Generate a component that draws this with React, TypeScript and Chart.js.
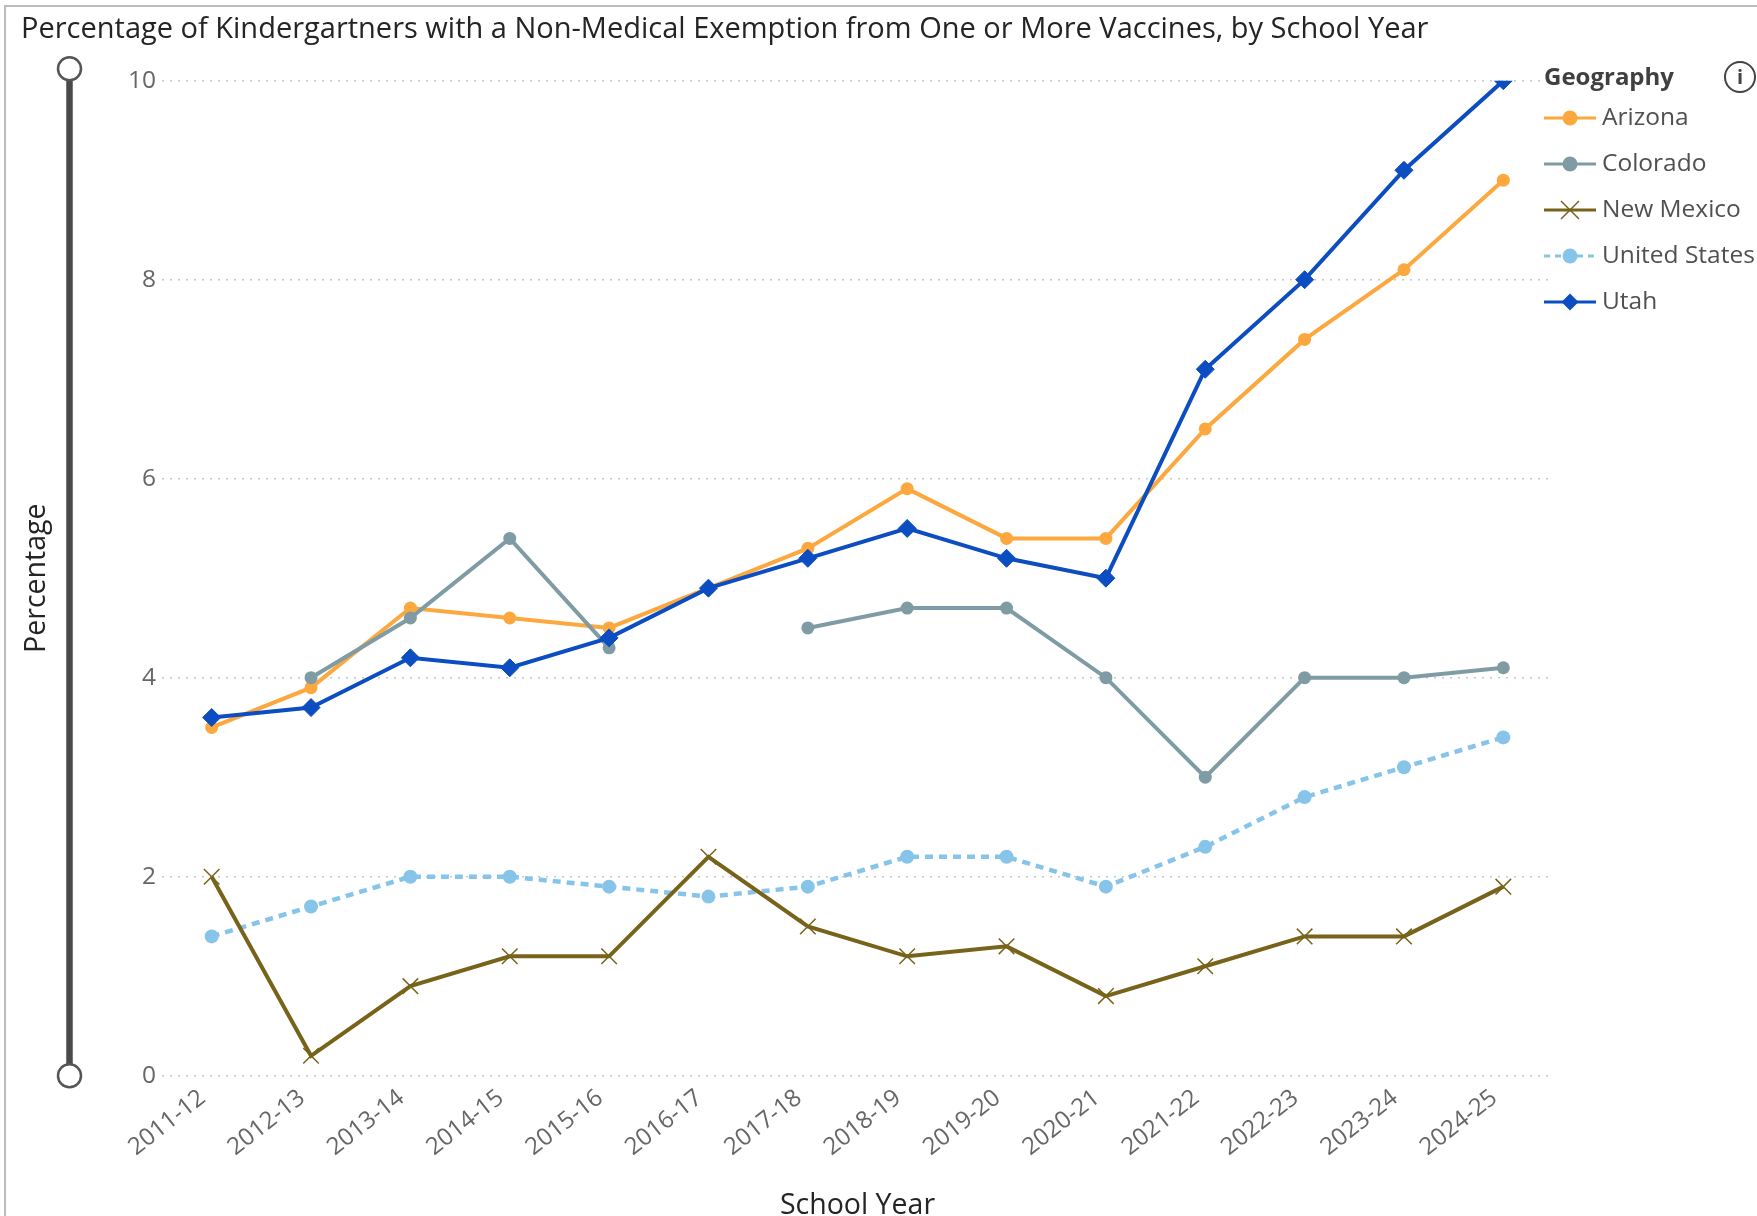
import React, { useEffect, useRef } from "react";
import { Chart, registerables } from "chart.js";

Chart.register(...registerables);

const schoolYears = [
  "2011-12", "2012-13", "2013-14", "2014-15", "2015-16", "2016-17", "2017-18",
  "2018-19", "2019-20", "2020-21", "2021-22", "2022-23", "2023-24", "2024-25",
];
const arizona = [3.5, 3.9, 4.7, 4.6, 4.5, 4.9, 5.3, 5.9, 5.4, 5.4, 6.5, 7.4, 8.1, 9.0];
const colorado = [null, 4.0, 4.6, 5.4, 4.3, null, 4.5, 4.7, 4.7, 4.0, 3.0, 4.0, 4.0, 4.1];
const newMexico = [2.0, 0.2, 0.9, 1.2, 1.2, 2.2, 1.5, 1.2, 1.3, 0.8, 1.1, 1.4, 1.4, 1.9];
const unitedStates = [1.4, 1.7, 2.0, 2.0, 1.9, 1.8, 1.9, 2.2, 2.2, 1.9, 2.3, 2.8, 3.1, 3.4];
const utah = [3.6, 3.7, 4.2, 4.1, 4.4, 4.9, 5.2, 5.5, 5.2, 5.0, 7.1, 8.0, 9.1, 10.0];
const yTicks = [0, 2, 4, 6, 8, 10];

const TITLE = "Percentage of Kindergartners with a Non-Medical Exemption from One or More Vaccines, by School Year";
const FONT = "'Open Sans', 'Noto Sans', sans-serif";

const C_AZ = "#FDA83E";
const C_CO = "#7F9BA4";
const C_NM = "#776319";
const C_US = "#86C4EA";
const C_UT = "#0C4DC1";

type LegendItem = { label: string; color: string; style: string; dash?: number[] };
const legendItems: LegendItem[] = [
  { label: "Arizona", color: C_AZ, style: "circle" },
  { label: "Colorado", color: C_CO, style: "circle" },
  { label: "New Mexico", color: C_NM, style: "cross" },
  { label: "United States", color: C_US, style: "circle", dash: [6, 5] },
  { label: "Utah", color: C_UT, style: "diamond" },
];

const decorPlugin = {
  id: "decor",
  afterDraw(chart: any) {
    const ctx: CanvasRenderingContext2D = chart.ctx;
    ctx.save();
    // visual border
    ctx.strokeStyle = "#bdbdbd";
    ctx.lineWidth = 2;
    ctx.beginPath();
    ctx.moveTo(5, 1216);
    ctx.lineTo(5, 6);
    ctx.lineTo(1757, 6);
    ctx.stroke();

    // zoom slider
    const yScale = chart.scales.y;
    const sx = 69.5;
    const yTop = yScale.getPixelForValue(10) - 12;
    const yBot = yScale.getPixelForValue(0);
    ctx.strokeStyle = "#4a4a4a";
    ctx.lineWidth = 6.5;
    ctx.beginPath();
    ctx.moveTo(sx, yTop);
    ctx.lineTo(sx, yBot);
    ctx.stroke();
    for (const cy of [yTop, yBot]) {
      ctx.beginPath();
      ctx.arc(sx, cy, 11.5, 0, Math.PI * 2);
      ctx.fillStyle = "#ffffff";
      ctx.fill();
      ctx.lineWidth = 2.5;
      ctx.strokeStyle = "#555555";
      ctx.stroke();
    }

    // legend
    const lx = 1544;
    ctx.textBaseline = "middle";
    ctx.textAlign = "left";
    ctx.fillStyle = "#404040";
    ctx.font = `bold 24px ${FONT}`;
    ctx.fillText("Geography", lx, 78);
    legendItems.forEach((it, i) => {
      const cy = 118 + i * 46;
      ctx.strokeStyle = it.color;
      ctx.lineWidth = 3;
      ctx.setLineDash(it.dash || []);
      ctx.beginPath();
      ctx.moveTo(lx, cy);
      ctx.lineTo(lx + 52, cy);
      ctx.stroke();
      ctx.setLineDash([]);
      const mx = lx + 26;
      ctx.fillStyle = it.color;
      if (it.style === "circle") {
        ctx.beginPath();
        ctx.arc(mx, cy, 7.5, 0, Math.PI * 2);
        ctx.fill();
      } else if (it.style === "diamond") {
        ctx.beginPath();
        ctx.moveTo(mx, cy - 8.5);
        ctx.lineTo(mx + 8.5, cy);
        ctx.lineTo(mx, cy + 8.5);
        ctx.lineTo(mx - 8.5, cy);
        ctx.closePath();
        ctx.fill();
      } else {
        ctx.lineWidth = 1.5;
        ctx.beginPath();
        ctx.moveTo(mx - 9, cy - 9);
        ctx.lineTo(mx + 9, cy + 9);
        ctx.moveTo(mx + 9, cy - 9);
        ctx.lineTo(mx - 9, cy + 9);
        ctx.stroke();
      }
      ctx.fillStyle = "#505050";
      ctx.font = `24.5px ${FONT}`;
      ctx.fillText(it.label, lx + 58, cy);
    });

    // info icon
    ctx.beginPath();
    ctx.arc(1740, 77, 15, 0, Math.PI * 2);
    ctx.strokeStyle = "#444444";
    ctx.lineWidth = 2;
    ctx.stroke();
    ctx.fillStyle = "#444444";
    ctx.textAlign = "center";
    ctx.font = `bold 20px ${FONT}`;
    ctx.fillText("i", 1740, 78);
    ctx.restore();
  },
};

export default function App() {
  const ref = useRef<HTMLCanvasElement>(null);
  useEffect(() => {
    if (!ref.current) return;
    const chart = new Chart(ref.current, {
      type: "line",
      data: {
        labels: schoolYears,
        datasets: [
          {
            label: "Arizona",
            data: arizona,
            borderColor: C_AZ,
            backgroundColor: C_AZ,
            borderWidth: 4,
            pointStyle: "circle",
            pointRadius: 6.5,
            pointBorderWidth: 0,
            order: 4,
          },
          {
            label: "Colorado",
            data: colorado,
            borderColor: C_CO,
            backgroundColor: C_CO,
            borderWidth: 4,
            pointStyle: "circle",
            pointRadius: 6.5,
            pointBorderWidth: 0,
            order: 2,
          },
          {
            label: "New Mexico",
            data: newMexico,
            borderColor: C_NM,
            backgroundColor: C_NM,
            borderWidth: 4,
            pointStyle: "crossRot",
            pointRadius: 11,
            pointBorderWidth: 1.5,
            order: 1,
          },
          {
            label: "United States",
            data: unitedStates,
            borderColor: C_US,
            backgroundColor: C_US,
            borderWidth: 4.5,
            borderDash: [8, 6],
            pointStyle: "circle",
            pointRadius: 7,
            pointBorderWidth: 0,
            order: 3,
          },
          {
            label: "Utah",
            data: utah,
            borderColor: C_UT,
            backgroundColor: C_UT,
            borderWidth: 4,
            pointStyle: "rectRot",
            pointRadius: 9,
            pointBorderWidth: 1,
            order: 0,
          },
        ],
      },
      options: {
        animation: false,
        responsive: false,
        devicePixelRatio: 1,
        layout: { padding: { left: 21, right: 204, top: 0, bottom: 0 } },
        plugins: {
          legend: { display: false },
          tooltip: { enabled: false },
          title: {
            display: true,
            text: TITLE,
            align: "start",
            color: "#252423",
            font: { family: FONT, size: 29, weight: "normal", lineHeight: 1.2 },
            padding: { top: 12, bottom: 33.9 },
          },
        },
        scales: {
          x: {
            offset: true,
            grid: { display: false, drawTicks: false },
            border: { display: false },
            ticks: {
              color: "#666666",
              font: { family: FONT, size: 24 },
              minRotation: 38,
              maxRotation: 38,
              autoSkip: false,
              padding: 8,
              labelOffset: -9,
            },
            title: {
              display: true,
              text: "School Year",
              color: "#252423",
              font: { family: FONT, size: 28.5, lineHeight: 1.0 },
              padding: { top: 0, bottom: -4 },
            },
            afterFit: (s: any) => {
              s.height = 140.3;
            },
          },
          y: {
            min: 0,
            max: 10,
            grid: { color: "#c8c8c8", lineWidth: 1.5, drawTicks: false },
            border: { display: false, dash: [2, 6] },
            afterBuildTicks: (s: any) => {
              s.ticks = yTicks.map((v) => ({ value: v }));
            },
            ticks: {
              color: "#666666",
              font: { family: FONT, size: 24.5 },
              padding: 6,
            },
            title: {
              display: true,
              text: "Percentage",
              color: "#252423",
              font: { family: FONT, size: 28.5, lineHeight: 1.2 },
              padding: { top: -1, bottom: 0 },
            },
            afterFit: (s: any) => {
              s.width = 141;
            },
          },
        },
      },
      plugins: [decorPlugin],
    } as any);
    return () => chart.destroy();
  }, []);
  return (
    <div style={{ position: "absolute", left: 0, top: 0, width: 1757, height: 1216, background: "#ffffff" }}>
      <canvas ref={ref} width={1757} height={1216} style={{ display: "block" }} />
    </div>
  );
}
